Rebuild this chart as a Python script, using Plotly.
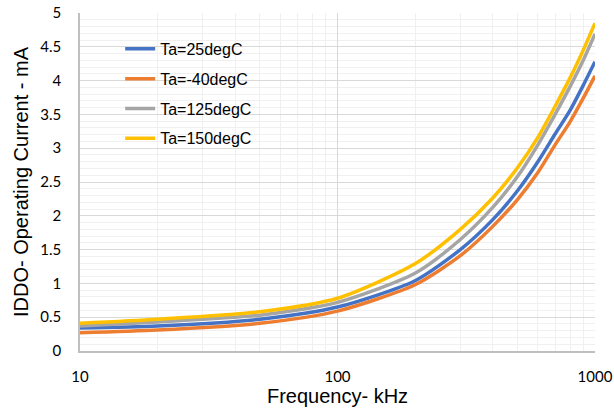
import plotly.graph_objects as go

freq_khz = [10, 20, 50, 100, 200, 300, 400, 500, 600, 700, 800, 900, 1000]
iddo_25c = [0.34, 0.37, 0.47, 0.65, 1.04, 1.50, 1.94, 2.37, 2.80, 3.21, 3.56, 3.93, 4.28]
iddo_m40c = [0.27, 0.31, 0.41, 0.59, 0.98, 1.41, 1.84, 2.24, 2.64, 3.05, 3.39, 3.74, 4.07]
iddo_125c = [0.37, 0.43, 0.53, 0.72, 1.15, 1.65, 2.12, 2.58, 3.05, 3.50, 3.91, 4.30, 4.69]
iddo_150c = [0.41, 0.47, 0.58, 0.78, 1.29, 1.80, 2.26, 2.71, 3.16, 3.62, 4.04, 4.45, 4.85]

series_names = ["Ta=25degC", "Ta=-40degC", "Ta=125degC", "Ta=150degC"]
series_values = [iddo_25c, iddo_m40c, iddo_125c, iddo_150c]
series_colors = ["#4472C4", "#ED7D31", "#A5A5A5", "#FFC000"]

fig = go.Figure()
for name, vals, col in zip(series_names, series_values, series_colors):
    fig.add_trace(go.Scatter(
        x=freq_khz, y=vals, mode="lines", name=name, legendgroup=name,
        line=dict(color=col, width=3.5, shape="spline", smoothing=0.7),
    ))

fig.update_layout(
    width=614, height=411,
    margin=dict(l=80, r=19, t=13, b=60, autoexpand=False),
    paper_bgcolor="white", plot_bgcolor="white",
    font=dict(family="Liberation Sans, Arial, sans-serif", color="#000000"),
    showlegend=True,
    legend=dict(
        x=0.078, y=0.944, xanchor="left", yanchor="top",
        bgcolor="rgba(0,0,0,0)", borderwidth=0,
        font=dict(size=16, family="Liberation Sans, Arial, sans-serif"),
        tracegroupgap=6,
    ),
)

fig.update_xaxes(
    type="log", range=[1, 3], dtick=1, automargin=False,
    showgrid=True, gridcolor="#D9D9D9", gridwidth=1.3,
    minor=dict(dtick="D1", showgrid=True, gridcolor="#F0F0F0", gridwidth=1.3),
    showline=True, linecolor="#BFBFBF", linewidth=1.5,
    ticks="", ticklabelstandoff=11,
    tickfont=dict(size=15, family="Lato, Calibri, sans-serif", color="#000000"),
    title=dict(text="Frequency- kHz", font=dict(size=20), standoff=4),
    zeroline=False,
)
fig.update_yaxes(
    range=[0, 5], dtick=0.5, automargin=False,
    showgrid=True, gridcolor="#D9D9D9", gridwidth=1.3,
    minor=dict(dtick=0.1, showgrid=True, gridcolor="#F0F0F0", gridwidth=1.3),
    showline=True, linecolor="#BFBFBF", linewidth=1.5,
    ticks="", ticklabelstandoff=14,
    tickfont=dict(size=15, family="Lato, Calibri, sans-serif", color="#000000"),
    title=dict(text="IDDO- Operating Current - mA", font=dict(size=20), standoff=6),
    zeroline=False,
)

fig.write_html(
    "out.html",
    config={"displayModeBar": False},
    post_script="document.body.style.margin='0';document.body.style.overflow='hidden';",
)
